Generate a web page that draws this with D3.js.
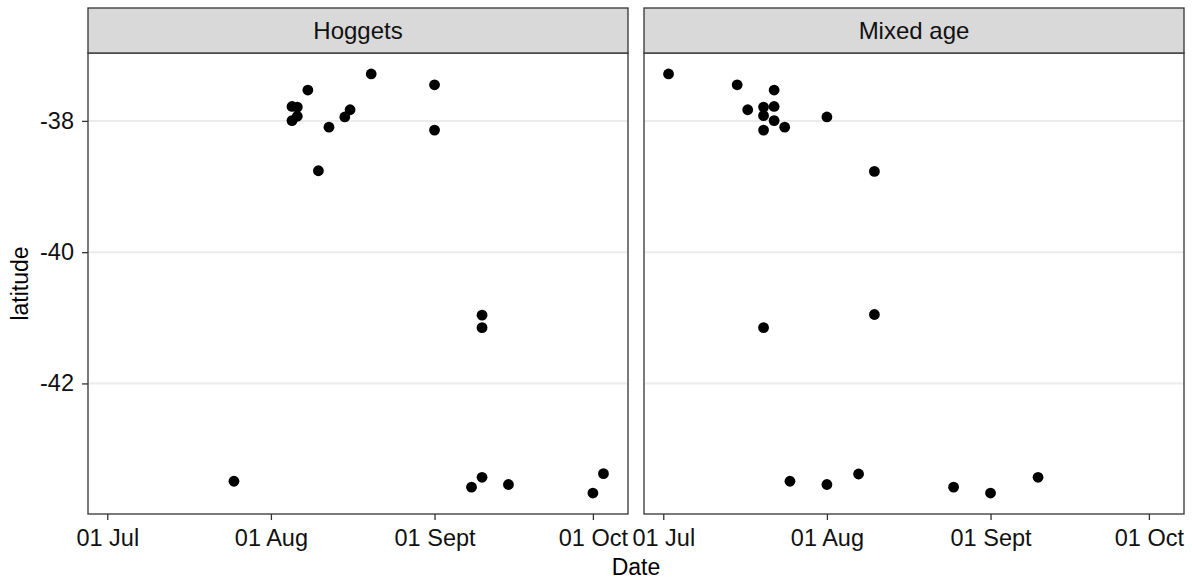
<!DOCTYPE html>
<html>
<head>
<meta charset="utf-8">
<script src="https://cdn.jsdelivr.net/npm/d3@7"></script>
<style>
  html, body { margin: 0; padding: 0; background: #fff; }
  svg { display: block; }
  text { font-family: "Liberation Sans", Arial, sans-serif; }
</style>
</head>
<body>
<svg id="chart" width="1192" height="581"></svg>
<script>
// ---- data ----
const facets = ["Hoggets", "Mixed age"];

const hoggetsDates = ["2019-08-20","2019-08-08","2019-08-05","2019-08-06","2019-08-05","2019-08-06",
  "2019-08-12","2019-08-15","2019-08-16","2019-08-10","2019-09-01","2019-09-01","2019-09-10","2019-09-10",
  "2019-07-25","2019-09-08","2019-09-10","2019-09-15","2019-10-01","2019-10-03"];
const hoggetsLat = [-37.285,-37.53,-37.78,-37.79,-37.995,-37.93,
  -38.096,-37.94,-37.83,-38.76,-37.45,-38.14,-40.96,-41.15,
  -43.49,-43.58,-43.43,-43.54,-43.67,-43.375];

const mixedDates = ["2019-07-02","2019-07-15","2019-07-22","2019-07-17","2019-07-20","2019-07-22",
  "2019-07-20","2019-07-22","2019-07-24","2019-07-20","2019-08-01","2019-08-10","2019-08-10","2019-07-20",
  "2019-07-25","2019-08-01","2019-08-07","2019-08-25","2019-09-01","2019-09-10"];
const mixedLat = [-37.285,-37.45,-37.53,-37.83,-37.79,-37.78,
  -37.92,-37.995,-38.096,-38.14,-37.94,-38.77,-40.95,-41.15,
  -43.49,-43.54,-43.38,-43.58,-43.67,-43.43];

const xTickDates = ["2019-07-01","2019-08-01","2019-09-01","2019-10-01"];
const xTickLabels = ["01 Jul","01 Aug","01 Sept","01 Oct"];
const yTicks = [-38, -40, -42];
const yTickLabels = ["-38", "-40", "-42"];

// ---- build ----
const parse = d3.utcParse("%Y-%m-%d");
const series = [
  hoggetsDates.map((d, i) => ({date: parse(d), lat: hoggetsLat[i]})),
  mixedDates.map((d, i) => ({date: parse(d), lat: mixedLat[i]}))
];
const all = series[0].concat(series[1]);

function expand(ext, f) {
  const span = ext[1] - ext[0];
  return [ext[0] - span * f, ext[1] + span * f];
}
const xDom = expand(d3.extent(all, d => +d.date), 0.05).map(v => new Date(v));
const yDom = expand(d3.extent(all, d => d.lat), 0.05);

const svg = d3.select("#chart");
const panelTop = 53, panelBottom = 514, stripTop = 8;
const panelW = 540;
const panelX = [88, 644];
const tickFont = 23.5, stripFont = 24, titleFont = 23;
const ink = "#111";

const y = d3.scaleLinear().domain(yDom).range([panelBottom, panelTop]);

facets.forEach((name, k) => {
  const x0 = panelX[k];
  const x = d3.scaleUtc().domain(xDom).range([x0, x0 + panelW]);
  const g = svg.append("g");

  g.append("rect").attr("x", x0).attr("y", panelTop)
    .attr("width", panelW).attr("height", panelBottom - panelTop)
    .attr("fill", "#fff");

  g.selectAll("line.grid").data(yTicks).join("line")
    .attr("class", "grid")
    .attr("x1", x0).attr("x2", x0 + panelW)
    .attr("y1", d => y(d)).attr("y2", d => y(d))
    .attr("stroke", "#ebebeb").attr("stroke-width", 2);

  g.selectAll("circle").data(series[k]).join("circle")
    .attr("cx", d => x(d.date)).attr("cy", d => y(d.lat))
    .attr("r", 5.4).attr("fill", "#000");

  g.append("rect").attr("x", x0).attr("y", panelTop)
    .attr("width", panelW).attr("height", panelBottom - panelTop)
    .attr("fill", "none").attr("stroke", "#333").attr("stroke-width", 1.3);

  g.append("rect").attr("x", x0).attr("y", stripTop)
    .attr("width", panelW).attr("height", panelTop - stripTop)
    .attr("fill", "#d9d9d9").attr("stroke", "#333").attr("stroke-width", 1.3);
  g.append("text").attr("x", x0 + panelW / 2).attr("y", 39.3)
    .attr("text-anchor", "middle")
    .attr("font-size", stripFont).attr("fill", ink).text(name);

  const xAxis = d3.axisBottom(x)
    .tickValues(xTickDates.map(parse))
    .tickFormat((d, i) => xTickLabels[i])
    .tickSize(6).tickPadding(9).tickSizeOuter(0);
  const ax = svg.append("g").attr("transform", `translate(0,${panelBottom})`).call(xAxis);
  ax.select(".domain").remove();
  ax.selectAll(".tick line").attr("stroke", "#333").attr("stroke-width", 1.3);
  ax.selectAll(".tick text").attr("font-size", tickFont).attr("fill", ink)
    .attr("font-family", "Liberation Sans, Arial, sans-serif");

  if (k === 0) {
    const yAxis = d3.axisLeft(y).tickValues(yTicks)
      .tickFormat((d, i) => yTickLabels[i])
      .tickSize(6).tickPadding(8).tickSizeOuter(0);
    const ay = svg.append("g").attr("transform", `translate(${x0},0)`).call(yAxis);
    ay.select(".domain").remove();
    ay.selectAll(".tick line").attr("stroke", "#333").attr("stroke-width", 1.3);
    ay.selectAll(".tick text").attr("font-size", tickFont).attr("fill", ink)
      .attr("font-family", "Liberation Sans, Arial, sans-serif");
  }
});

svg.append("text").attr("x", (panelX[0] + panelX[1] + panelW) / 2).attr("y", 575)
  .attr("text-anchor", "middle").attr("font-size", titleFont).attr("fill", "#000").text("Date");
svg.append("text")
  .attr("transform", `translate(28,${(panelTop + panelBottom) / 2}) rotate(-90)`)
  .attr("text-anchor", "middle").attr("font-size", titleFont).attr("fill", "#000").text("latitude");
</script>
</body>
</html>
